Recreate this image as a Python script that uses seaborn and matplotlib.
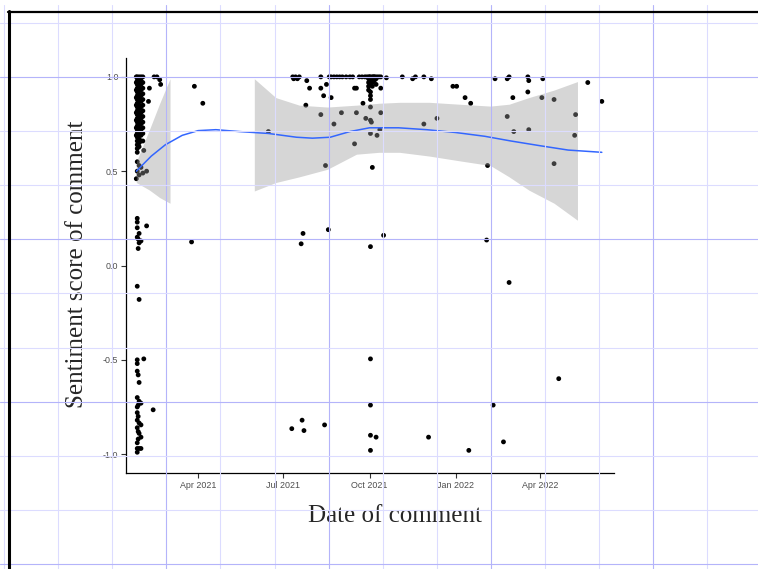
import matplotlib
matplotlib.use("Agg")
import numpy as np
import pandas as pd
import matplotlib.pyplot as plt
import matplotlib.dates as mdates
from matplotlib.lines import Line2D
import seaborn as sns

# ── Data ──────────────────────────────────────────────────────────────────────
# dense columns of comments in late Jan 2021 / early Oct 2021
jan25_scores = [1.00, 0.97, 0.93, 0.89, 0.85, 0.81, 0.77, 0.73, 0.69, 0.46]
jan26_scores = [1.00, 0.98, 0.96, 0.94, 0.92, 0.90, 0.88, 0.86, 0.84, 0.82,
                0.80, 0.78, 0.76, 0.74, 0.72, 0.70, 0.68, 0.66, 0.64, 0.62,
                0.60, 0.55, 0.50, 0.25, 0.23, 0.20, 0.15, -0.11, -0.50,
                -0.52, -0.56, -0.70, -0.75, -0.78, -0.82, -0.86, -0.94,
                -0.97, -0.99]
jan27_scores = [0.14, 0.09, -0.58, -0.74, -0.80, -0.88, -0.92]
jan28_scores = [1.00, 0.99, 0.97, 0.95, 0.93, 0.91, 0.89, 0.87, 0.85, 0.83,
                0.81, 0.79, 0.77, 0.75, 0.73, 0.71, 0.69, 0.67, 0.65, 0.63,
                0.53, 0.48, 0.17, 0.12, -0.18, -0.62, -0.72, -0.835, -0.89,
                -0.97]
jan30_scores = [1.00, 0.98, 0.96, 0.93, 0.90, 0.87, 0.84, 0.81, 0.78, 0.75,
                0.72, 0.69, 0.66, 0.52, 0.13, -0.73, -0.845, -0.91, -0.97]
feb01_scores = [1.00, 0.97, 0.94, 0.91, 0.88, 0.85, 0.82, 0.79, 0.76, 0.73,
                0.70, 0.66, 0.49]
sep30_scores = [1.00, 0.99, 0.97, 0.95, 0.93]
oct02_scores = [1.00, 0.98, 0.96, 0.92, 0.90, 0.88, 0.84, 0.77, 0.70, 0.10,
                -0.495, -0.74, -0.90, -0.98]
oct04_scores = [1.00, 0.99, 0.97, 0.95, 0.52]

# scattered comments
other_dates = [
    "2021-02-02", "2021-02-05", "2021-02-13", "2021-02-16", "2021-02-19",
    "2021-02-20", "2021-02-08", "2021-02-07", "2021-03-28", "2021-04-06",
    "2021-02-05", "2021-03-25", "2021-02-02", "2021-02-12", "2021-06-15",
    "2021-07-11", "2021-07-12", "2021-07-13", "2021-07-14", "2021-07-16",
    "2021-07-18", "2021-07-26", "2021-08-10", "2021-08-19", "2021-08-21",
    "2021-08-24", "2021-08-27", "2021-08-30", "2021-09-02", "2021-09-06",
    "2021-09-10", "2021-09-13", "2021-09-20", "2021-09-23", "2021-09-26",
    "2021-09-28", "2021-10-01", "2021-10-03", "2021-10-05", "2021-10-06",
    "2021-10-07", "2021-10-08", "2021-10-09", "2021-10-11", "2021-10-13",
    "2021-10-19", "2021-11-05", "2021-11-16", "2021-11-19", "2021-11-28",
    "2021-12-06", "2021-07-29", "2021-08-10", "2021-08-16", "2021-08-13",
    "2021-08-21", "2021-09-15", "2021-09-17", "2021-07-25", "2021-08-10",
    "2021-09-01", "2021-09-17", "2021-09-24", "2021-09-27", "2021-10-03",
    "2021-10-12", "2021-10-09", "2021-10-13", "2021-10-13", "2021-08-24",
    "2021-09-15", "2021-08-15", "2021-10-06", "2021-10-08", "2021-11-28",
    "2021-12-12", "2021-12-29", "2021-07-20", "2021-07-22", "2021-08-18",
    "2021-10-16", "2021-07-10", "2021-07-21", "2021-07-23", "2021-08-14",
    "2021-10-08", "2021-12-03", "2022-01-02", "2022-01-11", "2022-01-17",
    "2022-01-15", "2022-02-03", "2022-02-04", "2022-02-10", "2022-02-12",
    "2022-02-21", "2022-02-25", "2022-02-27", "2022-02-25", "2022-02-27",
    "2022-03-03", "2022-03-04", "2022-03-19", "2022-03-20", "2022-03-19",
    "2022-03-20", "2022-04-04", "2022-04-03", "2022-04-16", "2022-04-16",
    "2022-04-21", "2022-05-08", "2022-05-09", "2022-05-22", "2022-06-06",
]
other_scores = [
    0.61, 0.50, 1.00, 1.00, 0.985,
    0.96, 0.94, 0.87, 0.95, 0.86,
    0.21, 0.125, -0.495, -0.765, 0.71,
    1.00, 0.99, 0.995, 1.00, 0.99,
    1.00, 0.98, 1.00, 1.00, 1.00,
    1.00, 1.00, 1.00, 1.00, 1.00,
    1.00, 1.00, 1.00, 1.00, 1.00,
    1.00, 1.00, 0.99, 1.00, 1.00,
    1.00, 0.99, 1.00, 1.00, 1.00,
    0.995, 1.00, 0.99, 1.00, 1.00,
    0.99, 0.94, 0.94, 0.96, 0.90,
    0.89, 0.94, 0.94, 0.85, 0.80,
    0.81, 0.81, 0.86, 0.78, 0.76,
    0.72, 0.69, 0.94, 0.81, 0.75,
    0.645, 0.53, 0.98, 0.96, 0.75,
    0.78, 0.95, 0.115, 0.17, 0.19,
    0.16, -0.865, -0.82, -0.875, -0.845,
    -0.91, -0.91, 0.95, 0.89, 0.86,
    -0.98, 0.135, 0.53, -0.74, 0.99,
    -0.935, 0.99, 1.00, 0.79, -0.09,
    0.89, 0.71, 1.00, 0.98, 0.92,
    0.72, 0.99, 0.89, 0.88, 0.54,
    -0.60, 0.69, 0.80, 0.97, 0.87,
]

# loess trend line
smooth_dates = ["2021-01-25", "2021-02-10", "2021-02-25", "2021-03-15",
                "2021-04-01", "2021-04-20", "2021-05-15", "2021-06-15",
                "2021-07-15", "2021-08-01", "2021-08-20", "2021-09-10",
                "2021-10-01", "2021-11-01", "2021-12-01", "2022-01-01",
                "2022-02-01", "2022-03-01", "2022-04-01", "2022-05-01",
                "2022-06-06"]
smooth_scores = [0.50, 0.58, 0.64, 0.69, 0.715, 0.72, 0.71, 0.70, 0.68,
                 0.675, 0.68, 0.71, 0.73, 0.73, 0.72, 0.705, 0.685, 0.66,
                 0.635, 0.612, 0.60]

# confidence band (two pieces, gap where there are no comments)
band1_dates = ["2021-01-25", "2021-02-08", "2021-02-19", "2021-03-02"]
band1_low = [0.44, 0.40, 0.36, 0.33]
band1_high = [0.55, 0.72, 0.86, 0.99]

band2_dates = ["2021-05-31", "2021-06-23", "2021-07-18", "2021-08-17",
               "2021-09-17", "2021-10-11", "2021-11-02", "2021-12-04",
               "2022-01-05", "2022-02-07", "2022-02-27", "2022-03-20",
               "2022-04-16", "2022-05-11"]
band2_low = [0.395, 0.44, 0.47, 0.51, 0.59, 0.60, 0.60, 0.58, 0.555, 0.53,
             0.47, 0.40, 0.33, 0.24]
band2_high = [0.99, 0.89, 0.85, 0.84, 0.85, 0.86, 0.865, 0.865, 0.855,
              0.845, 0.855, 0.89, 0.93, 0.975]

x_tick_dates = ["2021-04-01", "2021-07-01", "2021-10-01", "2022-01-01",
                "2022-04-01"]
x_tick_labels = ["Apr 2021", "Jul 2021", "Oct 2021", "Jan 2022", "Apr 2022"]
y_ticks = [-1.0, -0.5, 0.0, 0.5, 1.0]
y_tick_labels = ["-1.0", "-0.5", "0.0", "0.5", "1.0"]

# ── Build frame ───────────────────────────────────────────────────────────────
columns = [("2021-01-25", jan25_scores), ("2021-01-26", jan26_scores),
           ("2021-01-27", jan27_scores), ("2021-01-28", jan28_scores),
           ("2021-01-30", jan30_scores), ("2021-02-01", feb01_scores),
           ("2021-09-30", sep30_scores), ("2021-10-02", oct02_scores),
           ("2021-10-04", oct04_scores)]
rows = [(d, s) for d, col in columns for s in col]
rows += list(zip(other_dates, other_scores))
df = pd.DataFrame(rows, columns=["date", "score"])
df["date"] = pd.to_datetime(df["date"])

smooth = pd.DataFrame({"date": pd.to_datetime(smooth_dates),
                       "score": smooth_scores})

# ── Plot ──────────────────────────────────────────────────────────────────────
sns.set_style("ticks")
plt.rcParams["font.family"] = ["Liberation Sans", "DejaVu Sans"]

W, H = 758, 569
fig = plt.figure(figsize=(W / 100, H / 100), dpi=100)
ax = fig.add_axes([126 / W, 96 / H, 488 / W, 415 / H])

sns.scatterplot(data=df, x="date", y="score", color="black", s=12,
                edgecolor="none", ax=ax, zorder=2)
for bd, lo, hi in [(band1_dates, band1_low, band1_high),
                   (band2_dates, band2_low, band2_high)]:
    ax.fill_between(pd.to_datetime(bd), lo, hi, color="#999999", alpha=0.4,
                    linewidth=0, zorder=3)
sns.lineplot(data=smooth, x="date", y="score", color="#3366FF",
             linewidth=1.1, ax=ax, zorder=4)

ax.set_xlim(pd.Timestamp("2021-01-14"), pd.Timestamp("2022-06-19"))
ax.set_ylim(-1.1, 1.1)
ax.set_xticks(pd.to_datetime(x_tick_dates))
ax.set_xticklabels(x_tick_labels)
ax.set_yticks(y_ticks)
ax.set_yticklabels(y_tick_labels)
ax.tick_params(length=3.5, width=0.8, color="#333333", labelcolor="#4D4D4D",
               labelsize=6.4, pad=2)

sns.despine(ax=ax)
for side in ["left", "bottom"]:
    ax.spines[side].set_color("black")
    ax.spines[side].set_linewidth(0.9)
ax.set_facecolor("none")

ax.set_xlabel("Date of comment", fontsize=18, family="Liberation Serif")
ax.set_ylabel("Sentiment score of comment", fontsize=18,
              family="Liberation Serif")
ax.xaxis.set_label_coords(0.552, -0.077)
ax.yaxis.set_label_coords(-0.078, 0.504)

# ── Graph-paper overlay and screenshot frame ──────────────────────────────────
light, dark = "#DCDCFF", "#B4B4FA"
for i in range(14):
    xp = 4 + 54.1 * i
    c = dark if i % 3 == 0 and i > 0 else light
    fig.add_artist(Line2D([xp / W, xp / W], [0, 1 - 5 / H], color=c,
                          linewidth=0.8, zorder=5))
for i in range(11):
    yp = 22.7 + 54.15 * i
    c = dark if i % 3 == 1 else light
    fig.add_artist(Line2D([0, 1], [1 - yp / H, 1 - yp / H], color=c,
                          linewidth=0.8, zorder=5))
fig.add_artist(Line2D([8.5 / W, 8.5 / W], [0, 1 - 11 / H], color="black",
                      linewidth=2.2, zorder=6))
fig.add_artist(Line2D([8 / W, 1], [1 - 12 / H, 1 - 12 / H], color="black",
                      linewidth=1.6, zorder=6))

fig.savefig("out.png", dpi=100)
